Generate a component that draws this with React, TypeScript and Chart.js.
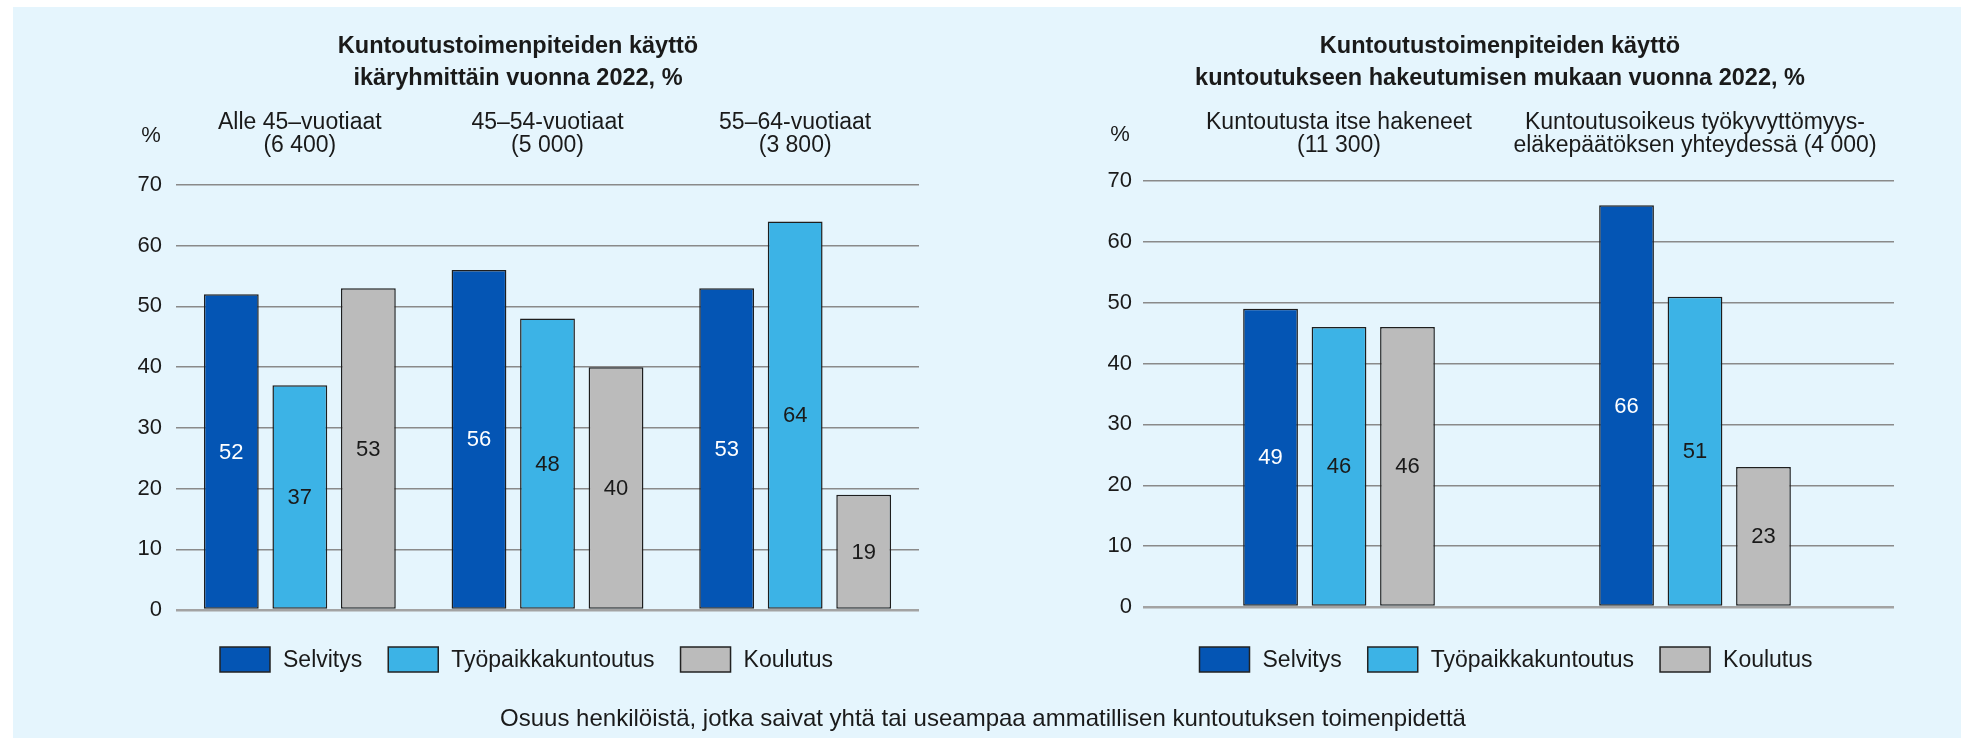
import React, { useEffect, useRef } from "react";
import { Chart, registerables } from "chart.js";

Chart.register(...registerables);

const FONT = "'Liberation Sans', Arial, sans-serif";
const TEXT = "#1a1a1a";

// ---- data ----
const seriesNames = ["Selvitys", "Työpaikkakuntoutus", "Koulutus"];

const leftTitle = ["Kuntoutustoimenpiteiden käyttö", "ikäryhmittäin vuonna 2022, %"];
const leftGroups = [
  ["Alle 45–vuotiaat", "(6 400)"],
  ["45–54-vuotiaat", "(5 000)"],
  ["55–64-vuotiaat", "(3 800)"],
];
const leftSelvitys = [52, 56, 53];
const leftTyopaikka = [37, 48, 64];
const leftKoulutus = [53, 40, 19];

const rightTitle = ["Kuntoutustoimenpiteiden käyttö", "kuntoutukseen hakeutumisen mukaan vuonna 2022, %"];
const rightGroups = [
  ["Kuntoutusta itse hakeneet", "(11 300)"],
  ["Kuntoutusoikeus työkyvyttömyys-", "eläkepäätöksen yhteydessä (4 000)"],
];
const rightSelvitys = [49, 66];
const rightTyopaikka = [46, 51];
const rightKoulutus = [46, 23];

const yMin = 0;
const yMax = 70;
const yStep = 10;
const unitLabel = "%";
const footerText =
  "Osuus henkilöistä, jotka saivat yhtä tai useampaa ammatillisen kuntoutuksen toimenpidettä";

// ---- styles ----
const barColors = ["#0455b4", "#3cb3e6", "#bbbbbb"];
const valueColors = ["#ffffff", TEXT, TEXT];
const BG = "#e5f5fd";

const decorPlugin = {
  id: "decor",
  afterDraw(chart: any, _args: any, opts: any) {
    const ctx = chart.ctx;
    const ca = chart.chartArea;
    ctx.save();
    // value labels in the middle of each bar
    ctx.font = `22px ${FONT}`;
    ctx.textAlign = "center";
    ctx.textBaseline = "middle";
    chart.data.datasets.forEach((ds: any, di: number) => {
      const meta = chart.getDatasetMeta(di);
      meta.data.forEach((el: any, i: number) => {
        const raw = ds.data[i];
        const v = typeof raw === "number" ? raw : raw.y;
        const p = el.getProps(["x", "y", "base"], true);
        ctx.fillStyle = valueColors[di];
        ctx.fillText(String(v), p.x, (p.y + p.base) / 2 + 1);
      });
    });
    // unit label above the y axis
    ctx.fillStyle = TEXT;
    ctx.fillText(unitLabel, ca.left + opts.unitDx, ca.top + opts.unitDy);
    // legend
    ctx.font = `23px ${FONT}`;
    ctx.textAlign = "left";
    let x = opts.legendX;
    const y = opts.legendY;
    const bw = 50;
    const bh = 25;
    chart.data.datasets.forEach((ds: any) => {
      ctx.fillStyle = ds.backgroundColor;
      ctx.fillRect(x, y - bh / 2, bw, bh);
      ctx.strokeStyle = "#222";
      ctx.lineWidth = 1.5;
      ctx.strokeRect(x, y - bh / 2, bw, bh);
      ctx.fillStyle = TEXT;
      const tx = x + bw + 13;
      ctx.fillText(ds.label, tx, y + 1);
      x = tx + ctx.measureText(ds.label).width + 26;
    });
    ctx.restore();
  },
};

function makeDatasets(series: number[][], asXY: boolean, catPct: number, barPct: number) {
  return series.map((vals, i) => ({
    label: seriesNames[i],
    data: asXY ? vals.map((v, x) => ({ x, y: v })) : vals,
    backgroundColor: barColors[i],
    borderColor: "#1e1e1e",
    borderWidth: 1.5,
    borderSkipped: false,
    categoryPercentage: catPct,
    barPercentage: barPct,
  }));
}

function yScale(width: number, pad: number) {
  return {
    min: yMin,
    max: yMax,
    position: "left",
    border: { display: false },
    grid: {
      drawTicks: false,
      color: (c: any) => (c.tick && c.tick.value === 0 ? "#a3a3a3" : "#8a8a8a"),
      lineWidth: (c: any) => (c.tick && c.tick.value === 0 ? 2.5 : 1.5),
    },
    ticks: { stepSize: yStep, padding: pad, color: TEXT, font: { family: FONT, size: 22 } },
    afterFit: (s: any) => {
      s.width = width;
    },
  };
}

function titleOpts(text: string[]) {
  return {
    display: true,
    text,
    color: TEXT,
    font: { family: FONT, size: 23.5, weight: "bold", lineHeight: 32 / 23.5 },
    padding: { top: 24, bottom: 0 },
  };
}

const catFont = { family: FONT, size: 23, lineHeight: 23 / 23 };

export default function App() {
  const leftRef = useRef<HTMLCanvasElement>(null);
  const rightRef = useRef<HTMLCanvasElement>(null);

  useEffect(() => {
    document.body.style.overflow = "hidden";
    const left = new Chart(leftRef.current as HTMLCanvasElement, {
      type: "bar",
      data: {
        labels: leftGroups as any,
        datasets: makeDatasets([leftSelvitys, leftTyopaikka, leftKoulutus], false, 0.83, 0.8) as any,
      },
      plugins: [decorPlugin],
      options: {
        responsive: false,
        animation: false,
        devicePixelRatio: 1,
        layout: { padding: { left: 104, right: 71, top: 0, bottom: 96 } },
        plugins: {
          legend: { display: false },
          tooltip: { enabled: false },
          title: titleOpts(leftTitle) as any,
          decor: { unitDx: -25, unitDy: -49, legendX: 207, legendY: 652.5 },
        } as any,
        scales: {
          x: {
            type: "category",
            position: "top",
            grid: { display: false, drawTicks: false },
            border: { display: false },
            ticks: {
              padding: 27.5,
              color: TEXT,
              autoSkip: false,
              maxRotation: 0,
              font: catFont,
            },
            afterFit: (s: any) => {
              s.height = 90;
            },
          },
          y: yScale(59, 14),
        } as any,
      },
    });

    const right = new Chart(rightRef.current as HTMLCanvasElement, {
      type: "bar",
      data: {
        datasets: makeDatasets([rightSelvitys, rightTyopaikka, rightKoulutus], true, 0.577, 0.8) as any,
      },
      plugins: [decorPlugin],
      options: {
        responsive: false,
        animation: false,
        devicePixelRatio: 1,
        layout: { padding: { left: 116, right: 67, top: 0, bottom: 99 } },
        plugins: {
          legend: { display: false },
          tooltip: { enabled: false },
          title: titleOpts(rightTitle) as any,
          decor: { unitDx: -23, unitDy: -46, legendX: 209.5, legendY: 652.5 },
        } as any,
        scales: {
          x: {
            type: "linear",
            position: "top",
            offset: false,
            min: -0.5506,
            max: 1.559,
            grid: { display: false, drawTicks: false },
            border: { display: false },
            afterBuildTicks: (s: any) => {
              s.ticks = rightGroups.map((_, i) => ({ value: i }));
            },
            ticks: {
              padding: 23.5,
              color: TEXT,
              autoSkip: false,
              maxRotation: 0,
              font: catFont,
              callback: (v: any) => rightGroups[v as number],
            },
            afterFit: (s: any) => {
              s.height = 86;
            },
          },
          y: yScale(37, 11),
        } as any,
      },
    });

    return () => {
      left.destroy();
      right.destroy();
    };
  }, []);

  return (
    <div
      style={{
        position: "fixed",
        left: 0,
        top: 0,
        width: 1966,
        height: 738,
        overflow: "hidden",
        background: "#ffffff",
      }}
    >
      <div style={{ position: "absolute", left: 13, top: 7, width: 1948, height: 731, background: BG }} />
      <canvas
        ref={leftRef}
        width={977}
        height={699}
        style={{ position: "absolute", left: 13, top: 7, width: 977, height: 699 }}
      />
      <canvas
        ref={rightRef}
        width={971}
        height={699}
        style={{ position: "absolute", left: 990, top: 7, width: 971, height: 699 }}
      />
      <div
        style={{
          position: "absolute",
          left: 0,
          top: 705,
          width: 1966,
          textAlign: "center",
          fontFamily: FONT,
          fontSize: 24,
          lineHeight: "26px",
          color: TEXT,
          whiteSpace: "nowrap",
        }}
      >
        {footerText}
      </div>
    </div>
  );
}
